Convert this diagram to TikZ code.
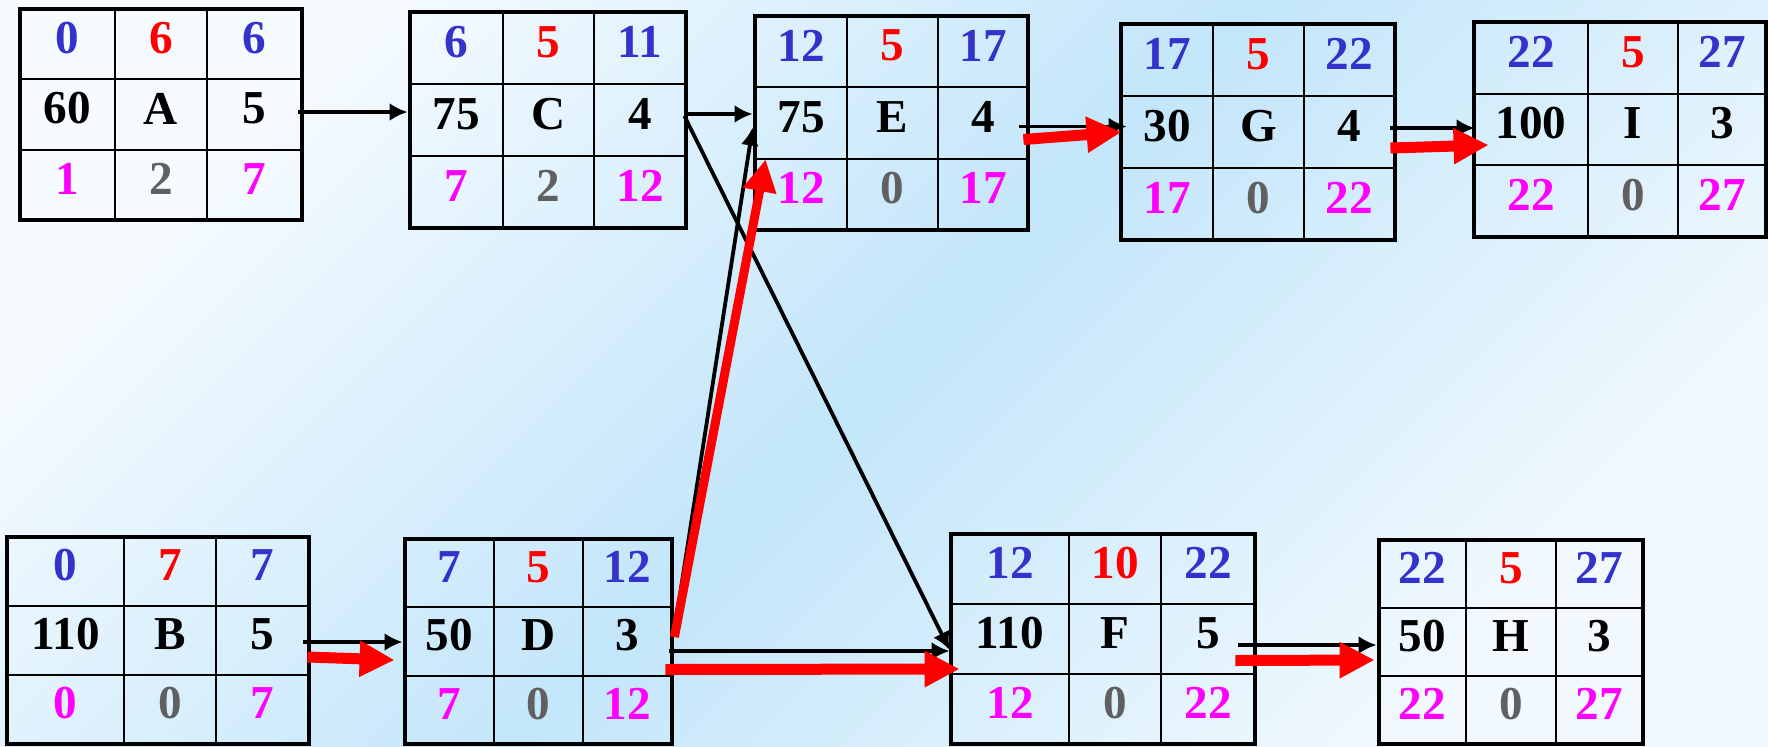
\documentclass[tikz,border=0pt]{standalone}
\usepackage{fontspec}
\setmainfont{Liberation Serif}
\usetikzlibrary{arrows.meta,calc,fit}
\definecolor{cblue}{HTML}{3333CC}
\definecolor{cred}{HTML}{FF0000}
\definecolor{cmag}{HTML}{FF00FF}
\definecolor{cgray}{HTML}{606060}
\definecolor{bgA}{HTML}{F6FBFF}
\definecolor{bgB}{HTML}{C3E6FA}
\definecolor{bgC}{HTML}{F2F9FE}
\tikzset{
  cell/.style={inner sep=0pt, font=\fontsize{23.6}{28}\selectfont\bfseries},
  boxframe/.style={draw=black, line width=2.4pt, inner sep=0pt},
  gridline/.style={draw=black, line width=1.1pt},
  blk/.style={draw=black, line width=1.9pt, -{Latex[length=9pt,width=9pt]}},
  redarr/.style={draw=cred, line width=5.5pt, -{Triangle[length=17.5pt,width=17pt]}},
  redarrthin/.style={draw=cred, line width=4.5pt, -{Triangle[length=16pt,width=16pt]}},
}
\newcommand\abtext[9]{%
  \pgfmathsetmacro\ca{(\Xa+\Xp)/2}\pgfmathsetmacro\cb{(\Xp+\Xq)/2}\pgfmathsetmacro\cc{(\Xq+\Xb)/2}%
  \pgfmathsetmacro\ra{(\Ya+\Yp)/2-6}\pgfmathsetmacro\rb{(\Yp+\Yq)/2-6}\pgfmathsetmacro\rc{(\Yq+\Yb)/2-6}%
  \node[cell, text=cblue] (\bn-11) at (\ca,\ra) {#1};
  \node[cell, text=cred]  (\bn-12) at (\cb,\ra) {#2};
  \node[cell, text=cblue] (\bn-13) at (\cc,\ra) {#3};
  \node[cell, text=black] (\bn-21) at (\ca,\rb) {#4};
  \node[cell, text=black] (\bn-22) at (\cb,\rb) {#5};
  \node[cell, text=black] (\bn-23) at (\cc,\rb) {#6};
  \node[cell, text=cmag]  (\bn-31) at (\ca,\rc) {#7};
  \node[cell, text=cgray] (\bn-32) at (\cb,\rc) {#8};
  \node[cell, text=cmag]  (\bn-33) at (\cc,\rc) {#9};
}
\newcommand\abox[8]{%
  \def\bn{#1}\def\Xa{#2}\def\Ya{#3}\def\Xb{#4}\def\Yb{#5}\def\Xp{#6}\def\Xq{#7}%
  \pgfmathsetmacro\Yp{#3+(#5-#3)/3}\pgfmathsetmacro\Yq{#3+2*(#5-#3)/3}%
  \draw[gridline] (\Xp,#3) -- (\Xp,#5) (\Xq,#3) -- (\Xq,#5)
                  (#2,\Yp) -- (#4,\Yp) (#2,\Yq) -- (#4,\Yq);
  \node[boxframe, fit={(#2,#3) (#4,#5)}] (#1) {};
  \abtext#8%
}
\begin{document}
\begin{tikzpicture}[x=0.5pt, y=-0.5pt]
  \shade[left color=bgA, right color=bgC, middle color=bgB, shading angle=45]
     (0pt,0pt) rectangle (884pt,-373pt);
  \useasboundingbox (0pt,0pt) rectangle (884pt,-373pt);

  \abox{A}{20}{9}{302}{220}{115}{207}{{0}{6}{6}{60}{A}{5}{1}{2}{7}}
  \abox{C}{410}{12}{686}{228}{503}{594}{{6}{5}{11}{75}{C}{4}{7}{2}{12}}
  \abox{E}{755}{16}{1028}{230}{847}{938}{{12}{5}{17}{75}{E}{4}{12}{0}{17}}
  \abox{G}{1121}{24}{1395}{240}{1213}{1304}{{17}{5}{22}{30}{G}{4}{17}{0}{22}}
  \abox{I}{1474}{22}{1766}{237}{1588}{1678}{{22}{5}{27}{100}{I}{3}{22}{0}{27}}
  \abox{B}{7}{537}{309}{744}{124}{216}{{0}{7}{7}{110}{B}{5}{0}{0}{7}}
  \abox{D}{405}{539}{672}{744}{494}{583}{{7}{5}{12}{50}{D}{3}{7}{0}{12}}
  \abox{F}{951}{534}{1255}{744}{1069}{1161}{{12}{10}{22}{110}{F}{5}{12}{0}{22}}
  \abox{H}{1379}{540}{1643}{744}{1466}{1556}{{22}{5}{27}{50}{H}{3}{22}{0}{27}}

  % black connectors
  \coordinate (ac) at ($(A.east)+(-6,-2.5)$);
  \draw[blk] (ac) -- (ac -| C.west);
  \coordinate (ce) at ($(C.east)+(-4,-6)$);
  \draw[blk] (ce) -- (ce -| E.west);
  \draw[blk] ($(C.east)+(-4,-4)$) -- ($(F.west)+(1,11)$);
  \draw[blk] ($(D.east)+(0,-11)$) -- ($(E.west)+(0,4.5)$);
  \coordinate (df) at ($(D.east)+(-5,9.5)$);
  \draw[blk] (df) -- ($(df -| F.west)+(1,0)$);
  \coordinate (bd) at ($(B.east)+(-8,1.5)$);
  \draw[blk] (bd) -- (bd -| D.west);
  \coordinate (eg) at ($(E.east)+(-11,3.5)$);
  \draw[blk] (eg) -- ($(eg -| G.west)+(8,0)$);
  \coordinate (gi) at ($(G.east)+(-7,-4)$);
  \draw[blk] (gi) -- ($(gi -| I.west)+(3,0)$);
  \coordinate (fh) at ($(F.east)+(-19,6)$);
  \draw[blk] (fh) -- (fh -| H.west);

  % critical path (red)
  \draw[redarr] ($(B.east)+(-4,16.5)$) -- ($(D.west)+(-8,18.5)$);
  \draw[redarr] ($(D.east)+(-9,28)$) -- ($(F.west)+(11,30)$);
  \draw[redarrthin] ($(D.east)+(0,-4.5)$) -- ($(E.south west)+(13,-73)$);
  \draw[redarr] ($(E.east)+(-7,16.5)$) -- ($(G.west)+(3,0)$);
  \draw[redarr] ($(G.east)+(-7,16)$) -- ($(I.west)+(17,15.5)$);
  \draw[redarr] ($(F.east)+(-22,21.5)$) -- ($(H.west)+(-2,18)$);
\end{tikzpicture}
\end{document}
